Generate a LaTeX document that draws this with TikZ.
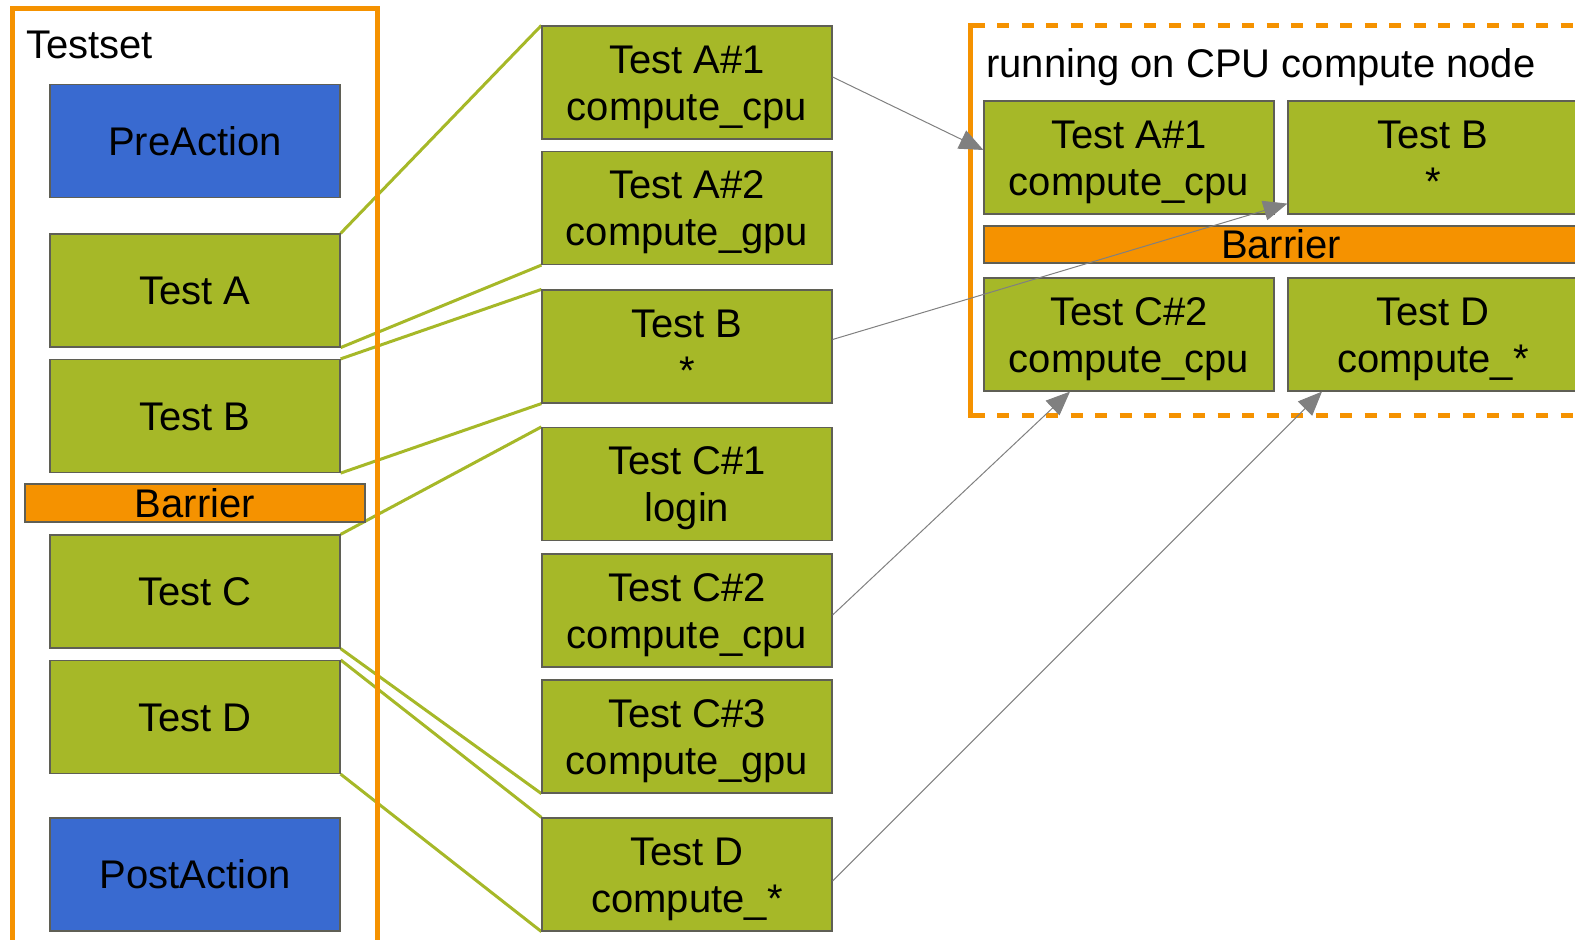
\documentclass[tikz,border=0pt]{standalone}
\usepackage{fontspec}
\setmainfont{Liberation Sans}
\usetikzlibrary{arrows.meta,backgrounds}
\definecolor{tgreen}{RGB}{166,184,40}
\definecolor{tblue}{RGB}{57,106,208}
\definecolor{torange}{RGB}{245,146,0}
\definecolor{tgray}{RGB}{128,128,128}
\definecolor{tedge}{RGB}{95,95,85}
\newcommand\TL[2]{\vbox to 76pt{\offinterlineskip\vskip28.8pt\hbox to 0pt{\hss\smash{#1}\hss}\vskip47pt\hbox to 0pt{\hss\smash{#2}\hss}\vss}}
\tikzset{
  basebox/.style={draw=tedge, line width=1.2pt, minimum width=290pt, minimum height=113pt,
    inner sep=0pt, font=\fontsize{40pt}{47pt}\selectfont},
  one/.style={text height=28.8pt, text depth=0pt},
  gbox/.style={basebox, fill=tgreen},
  bbox/.style={basebox, fill=tblue, one},
  barbox/.style={basebox, fill=torange, one},
  link/.style={tgreen, line width=3pt},
  flow/.style={tgray, line width=1pt, -{Triangle[length=24pt,width=20pt]}},
  frame/.style={torange, line width=5pt},
  title/.style={anchor=base west, inner sep=0pt, font=\fontsize{40pt}{47pt}\selectfont}
}
\begin{document}
\begin{tikzpicture}[x=1pt,y=-1pt]
\useasboundingbox (0,0) rectangle (1575,940);
% left column
\node[title] (testset) at (26,58) {Testset};
\node[bbox] (pre) at (195,141) {PreAction};
\node[gbox,one] (lA) at (195,290.5) {Test A};
\node[gbox,one] (lB) at (195,416) {Test B};
\node[barbox, minimum width=340pt, minimum height=38pt] (lbar) at (195,503) {Barrier};
\node[gbox,one] (lC) at (195,591.5) {Test C};
\node[gbox,one] (lD) at (195,717) {Test D};
\node[bbox] (post) at (195,874.5) {PostAction};
% middle column
\node[gbox] (mA1) at (687,82.5) {\TL{Test A\#1}{compute\_cpu}};
\node[gbox] (mA2) at (687,208) {\TL{Test A\#2}{compute\_gpu}};
\node[gbox] (mB) at (687,346.5) {\TL{Test B}{*}};
\node[gbox] (mC1) at (687,484) {\TL{Test C\#1}{login}};
\node[gbox] (mC2) at (687,610.5) {\TL{Test C\#2}{compute\_cpu}};
\node[gbox] (mC3) at (687,736.5) {\TL{Test C\#3}{compute\_gpu}};
\node[gbox] (mD) at (687,874.5) {\TL{Test D}{compute\_*}};
% right group
\node[title] (runtitle) at (986,77) {running on CPU compute node};
\node[gbox] (rA1) at (1129,157.5) {\TL{Test A\#1}{compute\_cpu}};
\node[gbox] (rB) at (1433,157.5) {\TL{Test B}{*}};
\node[barbox, minimum width=594pt, minimum height=37pt] (rbar) at (1281,244.5) {Barrier};
\node[gbox] (rC2) at (1129,334.5) {\TL{Test C\#2}{compute\_cpu}};
\node[gbox] (rD) at (1433,334.5) {\TL{Test D}{compute\_*}};
% background: links and frames
\begin{scope}[on background layer]
  \draw[link] (lA.north east) -- (mA1.north west);
  \draw[link] (lA.south east) -- (mA2.south west);
  \draw[link] (lB.north east) -- (mB.north west);
  \draw[link] (lB.south east) -- (mB.south west);
  \draw[link] (lC.north east) -- (mC1.north west);
  \draw[link] (lC.south east) -- (mC3.south west);
  \draw[link] (lD.north east) -- (mD.north west);
  \draw[link] (lD.south east) -- (mD.south west);
  \draw[frame] (12,970) -- (12,8) -- (377,8) -- (377,970);
  \draw[frame] (985,25) -- (970,25) -- (970,415) -- (985,415);
  \draw[frame, dash pattern=on 12pt off 12.5pt] (997,25) -- (1600,25);
  \draw[frame, dash pattern=on 12pt off 12.5pt] (997,415) -- (1600,415);
\end{scope}
% arrows
\draw[flow] ([yshift=5.5pt]mA1.east) -- ([yshift=7.5pt]rA1.west);
\draw[flow] ([yshift=7pt]mB.east) -- ([yshift=11pt]rB.south west);
\draw[flow] ([yshift=-4.5pt]mC2.east) -- ([xshift=-59pt]rC2.south);
\draw[flow] ([yshift=-6.5pt]mD.east) -- ([xshift=-111pt]rD.south);
\end{tikzpicture}
\end{document}
